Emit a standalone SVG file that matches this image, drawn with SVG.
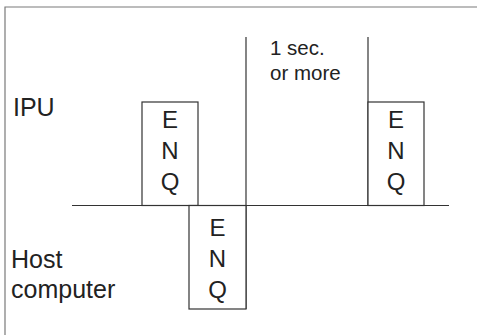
<svg xmlns="http://www.w3.org/2000/svg" width="477" height="335" viewBox="0 0 477 335">
  <style>
    .frame { fill: none; stroke: #7a7a7a; stroke-width: 1.2; }
    .line { fill: none; stroke: #333; stroke-width: 1.2; }
    .box { fill: #fff; stroke: #333; stroke-width: 1.2; }
    .lbl { font-family: "Liberation Sans", Arial, sans-serif; font-size: 25px; fill: #222; }
    .enq { font-family: "Liberation Sans", Arial, sans-serif; font-size: 24px; fill: #222; text-anchor: middle; }
    .note { font-family: "Liberation Sans", Arial, sans-serif; font-size: 20.5px; fill: #222; }
  </style>

  <!-- outer frame (top and left edges) -->
  <path class="frame" d="M5,335 V7 H477"/>

  <!-- row labels -->
  <g id="label-ipu">
    <text class="lbl" x="13" y="116">IPU</text>
  </g>
  <g id="label-host">
    <text class="lbl" x="11" y="268">Host</text>
    <text class="lbl" x="11" y="298">computer</text>
  </g>

  <!-- time axis and interval markers -->
  <g id="connectors">
    <line class="line" x1="72" y1="205.5" x2="449" y2="205.5"/>
    <line class="line" x1="246" y1="37" x2="246" y2="309"/>
    <line class="line" x1="368" y1="37" x2="368" y2="205.5"/>
  </g>

  <g id="interval-note">
    <text class="note" x="270" y="55">1 sec.</text>
    <text class="note" x="270" y="80">or more</text>
  </g>

  <!-- IPU sends ENQ -->
  <g id="enq-ipu-1">
    <rect class="box" x="142" y="102" width="56" height="103.5"/>
    <text class="enq" x="170" y="128">E</text>
    <text class="enq" x="170" y="159">N</text>
    <text class="enq" x="170" y="190">Q</text>
  </g>

  <!-- host sends ENQ -->
  <g id="enq-host">
    <rect class="box" x="189" y="205.5" width="57" height="103.5"/>
    <text class="enq" x="217.5" y="236">E</text>
    <text class="enq" x="217.5" y="267">N</text>
    <text class="enq" x="217.5" y="298">Q</text>
  </g>

  <!-- IPU retries ENQ -->
  <g id="enq-ipu-2">
    <rect class="box" x="368" y="102" width="56" height="103.5"/>
    <text class="enq" x="396" y="128">E</text>
    <text class="enq" x="396" y="159">N</text>
    <text class="enq" x="396" y="190">Q</text>
  </g>
</svg>
